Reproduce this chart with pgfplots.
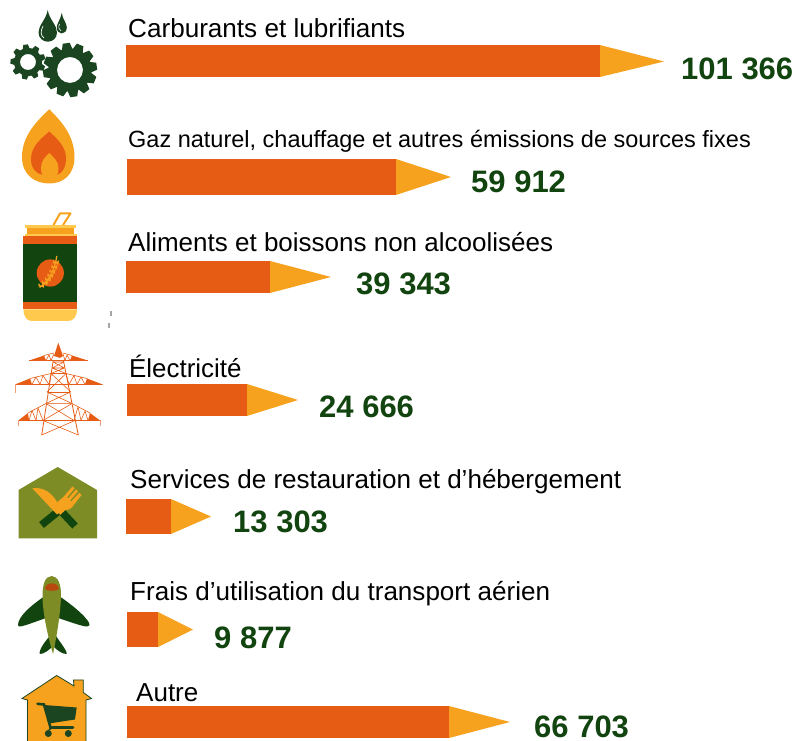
\documentclass[border=0pt]{standalone}
\usepackage{fontspec}
\setmainfont{Liberation Sans}
\usepackage{pgfplots}
\pgfplotsset{compat=1.18}
\definecolor{org}{HTML}{E65C14}
\definecolor{yel}{HTML}{F7A21F}
\definecolor{grn}{HTML}{12440F}
\definecolor{dgr}{HTML}{1B4520}
\definecolor{oli}{HTML}{7D8C25}
\definecolor{lye}{HTML}{FFC94D}
\newcommand{\gear}[5]{% x y outer inner teeth
 \fill[dgr,even odd rule] (#1,#2) circle[radius=#4]
   (#1,#2) circle[radius=#3*0.8];
 \foreach \a in {1,...,#5}{
  \fill[dgr,rotate around={360/#5*\a+8:(#1,#2)}]
    (#1-#3*0.20,#2-#3*0.75) -- (#1-#3*0.13,#2-#3) -- (#1+#3*0.13,#2-#3) -- (#1+#3*0.20,#2-#3*0.75) -- cycle;}
}
\newcommand{\lab}[4]{\node[anchor=base west,inner sep=0pt,font=\fontsize{#3}{#3}\selectfont] at (axis cs:#1,#2) {#4};}
\newcommand{\val}[3]{\node[anchor=base west,inner sep=0pt,text=grn,font=\fontsize{31}{31}\selectfont\bfseries] at (axis cs:#1,#2) {#3};}
\begin{document}
\begin{tikzpicture}
\begin{axis}[width=795pt,height=741pt,scale only axis,xmin=0,xmax=795,ymin=0,ymax=741,y dir=reverse,axis lines=none,clip=false]
% bars
\addplot[draw=none,fill=org] coordinates {(126,45)(600,45)(600,77)(126,77)} --cycle;
\addplot[draw=none,fill=yel] coordinates {(600,45)(664,61.5)(600,77)} --cycle;
\addplot[draw=none,fill=org] coordinates {(127,159)(396,159)(396,195)(127,195)} --cycle;
\addplot[draw=none,fill=yel] coordinates {(396,159)(451,177)(396,195)} --cycle;
\addplot[draw=none,fill=org] coordinates {(126,261)(270,261)(270,293)(126,293)} --cycle;
\addplot[draw=none,fill=yel] coordinates {(270,261)(331,277)(270,293)} --cycle;
\addplot[draw=none,fill=org] coordinates {(127,384)(247,384)(247,416)(127,416)} --cycle;
\addplot[draw=none,fill=yel] coordinates {(247,384)(298,400)(247,416)} --cycle;
\addplot[draw=none,fill=org] coordinates {(126,499)(171,499)(171,534)(126,534)} --cycle;
\addplot[draw=none,fill=yel] coordinates {(171,499)(211,516.5)(171,534)} --cycle;
\addplot[draw=none,fill=org] coordinates {(127,612)(158,612)(158,647)(127,647)} --cycle;
\addplot[draw=none,fill=yel] coordinates {(158,612)(193,629.5)(158,647)} --cycle;
\addplot[draw=none,fill=org] coordinates {(127,706)(449,706)(449,738)(127,738)} --cycle;
\addplot[draw=none,fill=yel] coordinates {(449,706)(510,722)(449,738)} --cycle;
% labels
\lab{128}{38}{26.1}{Carburants et lubrifiants}
\lab{128}{148}{23.5}{Gaz naturel, chauffage et autres émissions de sources fixes}
\lab{128}{251}{26}{Aliments et boissons non alcoolisées}
\lab{129}{377}{25.9}{Électricité}
\lab{130}{488}{26.05}{Services de restauration et d’hébergement}
\lab{130}{600}{26.05}{Frais d’utilisation du transport aérien}
\lab{136}{701}{26}{Autre}
\val{681}{80}{101 366}
\val{471}{192}{59 912}
\val{356}{294}{39 343}
\val{319}{417}{24 666}
\val{233}{532}{13 303}
\val{214}{648}{9 877}
\val{534}{737}{66 703}
\end{axis}
\begin{scope}[x=1pt,y=-1pt,shift={(0pt,741pt)}]
\clip (0,0) rectangle (795,741);
% gears
\gear{28}{62}{17.5}{8}{9}
\gear{70}{70}{27}{13}{12}
% drops
\fill[dgr] (47.7,10) .. controls (46,20) and (38.5,25) .. (38.5,32.5) .. controls (38.5,38) and (43,41.7) .. (47.7,41.7) .. controls (53,41.7) and (57,38) .. (57,32.5) .. controls (57,25) and (49.5,20) .. (47.7,10) -- cycle;
\draw[white,line width=.7pt] (43,26) .. controls (40,32) and (41,36) .. (44,38);
\fill[dgr] (61.7,13) .. controls (60.5,20) and (56.8,23) .. (56.8,27.5) .. controls (56.8,31) and (59,33.5) .. (61.7,33.5) .. controls (64.5,33.5) and (66.8,31) .. (66.8,27.5) .. controls (66.8,23) and (63,20) .. (61.7,13) -- cycle;
\draw[white,line width=.6pt] (59.5,24) .. controls (58,27) and (59,30) .. (61,31);
% flame
\fill[yel] (49.3,109.3) .. controls (38,120) and (22,135) .. (22,157) .. controls (22,175) and (35,183.5) .. (49.3,183.5) .. controls (63,183.5) and (74.5,175) .. (74.5,157) .. controls (74.5,135) and (60,120) .. (49.3,109.3) -- cycle;
\fill[org] (49.3,131.5) .. controls (42,138) and (31,146) .. (31,159) .. controls (31,168) and (36,174) .. (43,175) -- (56,175) .. controls (62,174) and (66,168) .. (66,158) .. controls (66,146) and (56,138) .. (49.3,131.5) -- cycle;
\fill[yel] (49.3,153) .. controls (45,157) and (41,161) .. (41,168) .. controls (41,172) and (42,175) .. (43,176) -- (56,176) .. controls (57.5,175) and (58.5,172) .. (58.5,168) .. controls (58.5,161) and (53,157) .. (49.3,153) -- cycle;
% can
\draw[yel,line width=2pt,line join=round] (53.5,225) -- (60,213.5) -- (70.5,213.5) -- (63,225);
\fill[lye] (25,225) rectangle (76,228);
\fill[yel] (27,228) rectangle (74,235);
\fill[lye] (24.5,234) rectangle (76.5,237);
\fill[org] (23,236) rectangle (77,244);
\fill[grn] (23,244) rectangle (77,302);
\fill[org] (23,302) rectangle (77,309.5);
\fill[lye] (23.5,309.5) -- (77,309.5) .. controls (77,317) and (73,321) .. (68,321) -- (32,321) .. controls (27,321) and (23.5,317) .. (23.5,309.5) -- cycle;
\fill[org] (50.3,273) circle[radius=13.6];
\draw[yel,line width=1.3pt] (39.5,287.5) .. controls (48,282) and (55,270) .. (56.8,256);
\foreach \t/\u in {41/286,44.5/283.5,47.5/280,50/276,52/272,54/267.5,55.5/263}{
  \fill[yel] (\t,\u) -- ++(3.6,-3) -- ++(-0.8,4.8) -- cycle;
  \fill[yel] (\t,\u) -- ++(-2.4,-3) -- ++(-0.2,3.5) -- cycle;}
\fill[gray!70] (110.3,311.5) rectangle (111.8,316.5);
\fill[gray!70] (108.3,323.5) rectangle (109.8,328.5);
% tower
\begin{scope}[org,line width=.6pt,line join=round]
% mast top and top arm
\fill (58.3,342.7) -- (54,356) -- (60,358) -- (63,356) -- cycle;
\fill (29.3,360.5) -- (44,355.5) -- (46,360.5) -- cycle;
\fill (87.7,360.5) -- (72,355.5) -- (70,360.5) -- cycle;
\draw (44,355.5) -- (54,353) (72,355.5) -- (63,353);
\draw (29.3,360.5) -- (87.7,360.5);
\draw (46,360.5) -- (49,355) -- (51,360.5) -- (54,354) (70,360.5) -- (67,355) -- (65,360.5) -- (63,354);
% legs
\draw[line width=.8pt] (53.3,360) -- (41.7,435);
\draw[line width=.8pt] (63.3,360) -- (78.3,435);
% head bracing
\draw (53,362) -- (64,362) (52,368) -- (64.5,368) (51,373.5) -- (66,373.5) (53,362) -- (64.5,368) (64,362) -- (52,368) (52,368) -- (66,373.5) (64.5,368) -- (51,373.5);
% mid arm
\fill (15,384.5) -- (30,378.5) -- (32,384.5) -- cycle;
\fill (102.7,384.5) -- (87,378.5) -- (85,384.5) -- cycle;
\draw (30,378.5) -- (51,373.5) (87,378.5) -- (66,373.5) (15,384.5) -- (102.7,384.5);
\draw (32,384.5) -- (36,377) -- (40,384.5) -- (43,375.5) -- (49,384.5) -- (51,373.5);
\draw (85,384.5) -- (81,377) -- (77,384.5) -- (74,375.5) -- (69,384.5) -- (66,373.5);
\draw[org!60,line width=.8pt] (15,384.5) -- (15,393);
% lower arm
\fill (18.3,420.5) -- (28,413) -- (29,420.5) -- cycle;
\fill (100,420.5) -- (90,413) -- (88,420.5) -- cycle;
\draw (28,413) -- (46,403.5) (90,413) -- (72,403.5) (18.3,420.5) -- (100,420.5);
\draw (29,420.5) -- (32,410.5) -- (36,420.5) -- (38,408) -- (43,420.5);
\draw (88,420.5) -- (85,411) -- (81,420.5) -- (78,407) -- (74,420.5);
\draw[org!60,line width=.8pt] (18.3,420.5) -- (18.3,426) (100,420.5) -- (100,426);
% tower bracing
\draw (49,384.5) -- (69,384.5) (48,392) -- (70,392);
\draw (51,373.5) -- (71,392) (66,373.5) -- (47,392);
\draw (47,392) -- (72,403.5) (70.5,392) -- (46,403.5);
\draw[org!70,line width=1.2pt] (45,403.5) -- (73,403.5);
\draw (46,403.5) -- (74,420.5) (72,403.5) -- (43,420.5) (43,420.5) -- (78.3,435) (75,420.5) -- (41.7,435);
\end{scope}
% restaurant
\fill[oli] (18.5,538.5) -- (18.5,490) -- (57.7,467) -- (97,490) -- (97,538.5) -- cycle;
\draw[grn,line width=7.5pt] (41.5,525) -- (60,510);
\draw[grn,line width=7.5pt] (60,510) -- (75,526);
\fill[yel] (32.3,488.3) .. controls (44,487) and (52,492) .. (60,506.7) -- (62,511) -- (57,514.5) -- cycle;
\fill[yel] (56.5,506) .. controls (57,501) and (60,499.5) .. (63,497.5) -- (72.5,486.5) -- (74.5,488.5) -- (67,497.5) -- (68,498.5) -- (76,489.5) -- (78,491.5) -- (70,500.5) -- (71,501.5) -- (79.5,493) -- (81.5,495) -- (73,506) .. controls (70,510) and (67,510) .. (65.5,510) -- (60,515) -- cycle;
% plane
\fill[grn] (45,596) .. controls (30,606) and (18,617) .. (18,625) .. controls (18,628) and (21,627) .. (46,618) -- cycle;
\fill[grn] (59,596) .. controls (74,606) and (90,620) .. (89.5,625) .. controls (88,628) and (85,627) .. (58,618) -- cycle;
\fill[grn] (50,636) .. controls (44,642) and (38,652) .. (40,654) .. controls (44,654) and (49,650) .. (52,647) -- cycle;
\fill[grn] (56,636) .. controls (60,642) and (68,652) .. (66.5,654) .. controls (62,654) and (57,650) .. (54,647) -- cycle;
\fill[oli] (51.7,576) .. controls (45,576) and (42.5,585) .. (42.5,595) .. controls (42.5,615) and (49,640) .. (53,654) .. controls (56,640) and (61,612) .. (61,594) .. controls (61,585) and (58,576) .. (51.7,576) -- cycle;
\fill[org!80!black] (45,589) .. controls (45,581.5) and (58.5,581.5) .. (59,589) .. controls (56,591.5) and (48,591.5) .. (45,589) -- cycle;
% house
\draw[dgr,line width=.8pt,fill=yel] (27.5,745) -- (27.5,700) -- (22,698.5) -- (56.7,675.5) -- (74,686) -- (73.5,680) -- (83.3,680) -- (83.3,692.5) -- (91.5,698.5) -- (86,700) -- (86,745) -- cycle;
\draw[dgr,line width=2.6pt,line cap=round] (37.5,703.8) -- (44,704.5) -- (50.5,727.5) -- (73,727.5);
\fill[dgr] (44,705) -- (76.7,707.5) -- (75,719.5) -- (49,723.5) -- cycle;
\fill[dgr] (48.3,733.5) circle[radius=3.5] (68.3,733.5) circle[radius=3.5];
\draw[dgr,line width=1.5pt] (49,730) -- (52,727);
\end{scope}
\end{tikzpicture}
\end{document}
